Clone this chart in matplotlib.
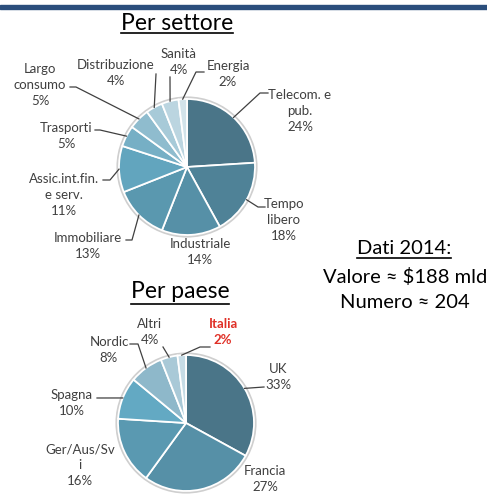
import numpy as np
import matplotlib
matplotlib.use('Agg')
import matplotlib.pyplot as plt
from matplotlib.patches import Rectangle, Circle

plt.rcParams['font.family'] = ['Lato', 'DejaVu Sans']

W, H = 487, 495

# Per settore
sector_names = ['Telecom. e\npub.', 'Tempo\nlibero', 'Industriale', 'Immobiliare',
                'Assic.int.fin.\ne serv.', 'Trasporti', 'Largo\nconsumo',
                'Distribuzione', 'Sanità', 'Energia']
sector_values = [24, 18, 14, 13, 11, 5, 5, 4, 4, 2]
sector_colors = ['#4A7588', '#4F8297', '#5690A7', '#5A98AF', '#62A5BE',
                 '#76AFC5', '#8FBCCE', '#A7CAD8', '#BBD5E0', '#D2E3EA']

# Per paese
country_names = ['UK', 'Francia', 'Ger/Aus/Sv\ni', 'Spagna', 'Nordic', 'Altri', 'Italia']
country_values = [33, 27, 16, 10, 8, 4, 2]
country_colors = ['#4A7588', '#5690A7', '#5A99B1', '#63A9C3', '#8EB8CA', '#A9C9D7', '#C6DCE6']

summary_title = 'Dati 2014:'
summary_lines = ['Valore ≈ $188 mld', 'Numero ≈ 204']

# layout (pixel coords, y downwards)
pie1_center, pie1_r = (187, 167), 68
pie2_center, pie2_r = (186, 423), 68
sector_text_pos = [(300, 111), (284, 220), (200, 252), (88, 246), (64, 195),
                   (66, 136), (40, 85), (116, 73), (179, 62), (228, 74)]
sector_elbows = [[(260, 93), (268, 93)], [(258, 207), (265, 207)], None,
                 [(132, 240), (126, 240)], [(110, 180), (103, 180)],
                 [(100, 130), (95, 130)], [(76, 87), (70, 87)],
                 [(156, 74)], [(170, 77)], [(196, 72), (204, 72)]]
country_text_pos = [(278, 377), (265, 479), (80, 465), (72, 403), (109, 350),
                    (150, 332), (223, 332)]
country_elbows = [[(264, 387)], None, None, [(97, 398)],
                  [(138, 344), (130, 344)], [(163, 347)], [(200, 347), (210, 347)]]

LABEL_SIZE = 9.5
TXT = '#404040'

fig = plt.figure(figsize=(W / 100, H / 100), dpi=100)
ax = fig.add_axes([0, 0, 1, 1])


def draw_pie(values, colors, names, center, r, text_pos, elbows, highlight=None):
    ax.add_patch(Circle(center, r + 1.2, facecolor='none', edgecolor='#cfcfcf', lw=2, zorder=1))
    wedges, _ = ax.pie(values, colors=colors, center=center, radius=r,
                       startangle=-90, counterclock=True,
                       wedgeprops=dict(edgecolor='white', linewidth=1.3, zorder=2))
    for i, w in enumerate(wedges):
        name = names[i]
        color = TXT
        weight = 'normal'
        if highlight is not None and name == highlight:
            color = '#E03027'
            weight = 'bold'
        ax.text(text_pos[i][0], text_pos[i][1], f'{name}\n{values[i]}%',
                ha='center', va='center', fontsize=LABEL_SIZE, color=color,
                fontweight=weight, linespacing=1.4, zorder=5)
        if elbows[i] is None:
            continue
        mid = np.deg2rad((w.theta1 + w.theta2) / 2)
        px = center[0] + r * np.cos(mid)
        py = center[1] + r * np.sin(mid)
        pts = [(px, py)] + elbows[i]
        xs, ys = zip(*pts)
        ax.plot(xs, ys, color=TXT, lw=0.9, zorder=4)


draw_pie(sector_values, sector_colors, sector_names, pie1_center, pie1_r,
         sector_text_pos, sector_elbows)
draw_pie(country_values, country_colors, country_names, pie2_center, pie2_r,
         country_text_pos, country_elbows, highlight='Italia')

ax.set_xlim(0, W)
ax.set_ylim(H, 0)
ax.set_aspect('equal')
ax.axis('off')

# top bar
ax.add_patch(Rectangle((0, 5), W, 3.5, color='#2B4E7C', zorder=6))

titles = [
    ax.text(177, 24, 'Per settore', ha='center', va='center', fontsize=16.5, color='black'),
    ax.text(180, 292, 'Per paese', ha='center', va='center', fontsize=16.5, color='black'),
    ax.text(404, 248, summary_title, ha='center', va='center', fontsize=14.5, color='black'),
]
for j, line in enumerate(summary_lines):
    ax.text(405, 277 + j * 26, line, ha='center', va='center', fontsize=14.5, color='black')

# underline titles
fig.canvas.draw()
renderer = fig.canvas.get_renderer()
inv = ax.transData.inverted()
for t, uy in zip(titles, [33, 304, 258]):
    bb = t.get_window_extent(renderer)
    (x0, _), (x1, _) = inv.transform([(bb.x0, bb.y0), (bb.x1, bb.y1)])
    ax.plot([x0, x1], [uy, uy], color='black', lw=1.2)

fig.savefig('out.png', dpi=100)
